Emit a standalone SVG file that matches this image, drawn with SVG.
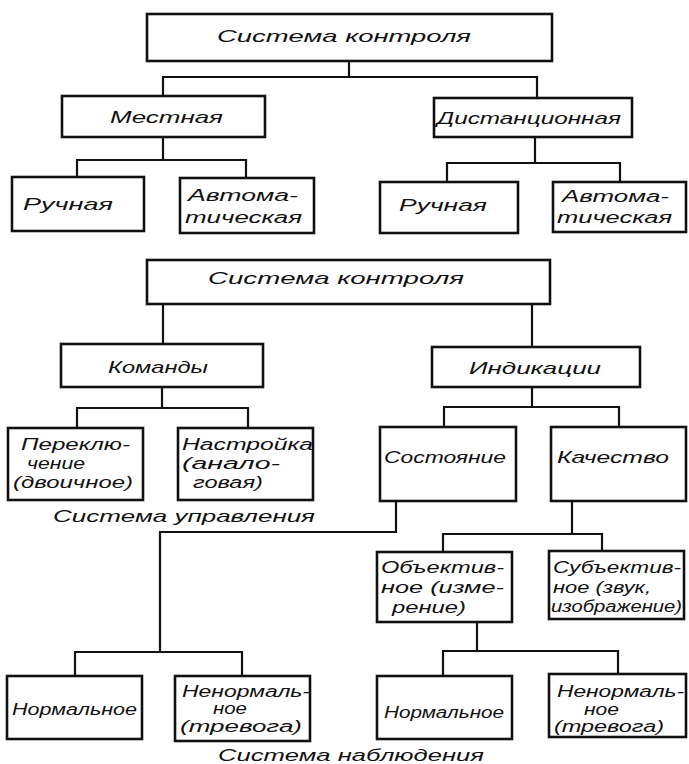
<svg xmlns="http://www.w3.org/2000/svg" width="689" height="764" viewBox="0 0 689 764">
<style>
.bx{fill:#fff;stroke:#111;stroke-width:2.6}
.ln{fill:none;stroke:#111;stroke-width:2.2;stroke-linecap:square}
text{font-family:"Liberation Sans","DejaVu Sans",sans-serif;font-style:italic;fill:#111;dominant-baseline:central}
.t{font-size:17px}
.s{font-size:16px}
</style>
<rect width="689" height="764" fill="#fff"/>
<g id="connectors">
<path class="ln" d="M349 61V77M163 77H537M163 77V96M537 77V98"/>
<path class="ln" d="M163 137V160M77 160H246M77 160V177M246 160V178"/>
<path class="ln" d="M535 137V163M447 163H620M447 163V182M620 163V182"/>
<path class="ln" d="M163 304V344M532 304V347"/>
<path class="ln" d="M162 387V408M77 408H248M77 408V428M248 408V428"/>
<path class="ln" d="M532 387V407M444 407H619M444 407V427M619 407V427"/>
<path class="ln" d="M396 501V532H160V652M75 652H242M75 652V676M242 652V676"/>
<path class="ln" d="M572 501V534M443 534H602M443 534V552M602 534V551"/>
<path class="ln" d="M477 622V651M443 651H618M443 651V676M618 651V674"/>
</g>
<g id="n_sys1"><rect class="bx" x="147" y="14" width="405" height="47"/><text class="t" x="217" y="36" textLength="254" lengthAdjust="spacingAndGlyphs">Система  контроля</text></g>
<g id="n_mestn"><rect class="bx" x="62" y="96" width="203" height="41"/><text class="t" x="110" y="117" textLength="113" lengthAdjust="spacingAndGlyphs">Местная</text></g>
<g id="n_dist"><rect class="bx" x="434" y="98" width="198" height="39"/><text class="t" x="437" y="118" textLength="184" lengthAdjust="spacingAndGlyphs">Дистанционная</text></g>
<g id="n_ruch1"><rect class="bx" x="12" y="177" width="132" height="54"/><text class="t" x="23" y="204" textLength="90" lengthAdjust="spacingAndGlyphs">Ручная</text></g>
<g id="n_avt1"><rect class="bx" x="180" y="178" width="134" height="55"/><text class="s" x="188" y="195" textLength="110" lengthAdjust="spacingAndGlyphs">Автома-</text><text class="s" x="185" y="217" textLength="117" lengthAdjust="spacingAndGlyphs">тическая</text></g>
<g id="n_ruch2"><rect class="bx" x="380" y="182" width="138" height="51"/><text class="t" x="399" y="205" textLength="88" lengthAdjust="spacingAndGlyphs">Ручная</text></g>
<g id="n_avt2"><rect class="bx" x="553" y="182" width="133" height="50"/><text class="s" x="562" y="196" textLength="107" lengthAdjust="spacingAndGlyphs">Автома-</text><text class="s" x="557" y="217" textLength="115" lengthAdjust="spacingAndGlyphs">тическая</text></g>
<g id="n_sys2"><rect class="bx" x="147" y="260" width="403" height="44"/><text class="t" x="208" y="278" textLength="256" lengthAdjust="spacingAndGlyphs">Система  контроля</text></g>
<g id="n_kom"><rect class="bx" x="61" y="344" width="202" height="43"/><text class="t" x="108" y="367" textLength="100" lengthAdjust="spacingAndGlyphs">Команды</text></g>
<g id="n_ind"><rect class="bx" x="432" y="347" width="208" height="40"/><text class="t" x="469" y="368" textLength="132" lengthAdjust="spacingAndGlyphs">Индикации</text></g>
<g id="n_perekl"><rect class="bx" x="8" y="428" width="135" height="72"/><text class="s" x="21" y="444" textLength="109" lengthAdjust="spacingAndGlyphs">Переклю-</text><text class="s" x="27" y="463" textLength="58" lengthAdjust="spacingAndGlyphs">чение</text><text class="s" x="13" y="482" textLength="120" lengthAdjust="spacingAndGlyphs">(двоичное)</text></g>
<g id="n_nastr"><rect class="bx" x="178" y="428" width="135" height="72"/><text class="s" x="182" y="444" textLength="131" lengthAdjust="spacingAndGlyphs">Настройка</text><text class="s" x="182" y="463" textLength="98" lengthAdjust="spacingAndGlyphs">(анало-</text><text class="s" x="193" y="482" textLength="70" lengthAdjust="spacingAndGlyphs">говая)</text></g>
<g id="n_sost"><rect class="bx" x="380" y="427" width="136" height="74"/><text class="t" x="384" y="457" textLength="122" lengthAdjust="spacingAndGlyphs">Состояние</text></g>
<g id="n_kach"><rect class="bx" x="551" y="427" width="135" height="74"/><text class="t" x="557" y="457" textLength="112" lengthAdjust="spacingAndGlyphs">Качество</text></g>
<text id="lbl_upr" class="t" x="53" y="516" textLength="262" lengthAdjust="spacingAndGlyphs">Система  управления</text>
<g id="n_obj"><rect class="bx" x="377" y="552" width="135" height="70"/><text class="s" x="381" y="567" textLength="123" lengthAdjust="spacingAndGlyphs">Объектив-</text><text class="s" x="381" y="587" textLength="123" lengthAdjust="spacingAndGlyphs">ное (изме-</text><text class="s" x="392" y="607" textLength="74" lengthAdjust="spacingAndGlyphs">рение)</text></g>
<g id="n_subj"><rect class="bx" x="549" y="551" width="135" height="68"/><text class="s" x="553" y="567" textLength="128" lengthAdjust="spacingAndGlyphs">Субъектив-</text><text class="s" x="553" y="587" textLength="98" lengthAdjust="spacingAndGlyphs">ное (звук,</text><text class="s" x="551" y="606" textLength="131" lengthAdjust="spacingAndGlyphs">изображение)</text></g>
<g id="n_norm1"><rect class="bx" x="7" y="676" width="135" height="63"/><text class="s" x="12" y="709" textLength="125" lengthAdjust="spacingAndGlyphs">Нормальное</text></g>
<g id="n_nenorm1"><rect class="bx" x="175" y="676" width="135" height="65"/><text class="s" x="182" y="691" textLength="128" lengthAdjust="spacingAndGlyphs">Ненормаль-</text><text class="s" x="213" y="708" textLength="34" lengthAdjust="spacingAndGlyphs">ное</text><text class="s" x="180" y="726" textLength="122" lengthAdjust="spacingAndGlyphs">(тревога)</text></g>
<g id="n_norm2"><rect class="bx" x="377" y="676" width="135" height="63"/><text class="s" x="384" y="712" textLength="120" lengthAdjust="spacingAndGlyphs">Нормальное</text></g>
<g id="n_nenorm2"><rect class="bx" x="549" y="674" width="137" height="63"/><text class="s" x="557" y="691" textLength="127" lengthAdjust="spacingAndGlyphs">Ненормаль-</text><text class="s" x="584" y="709" textLength="35" lengthAdjust="spacingAndGlyphs">ное</text><text class="s" x="554" y="726" textLength="110" lengthAdjust="spacingAndGlyphs">(тревога)</text></g>
<text id="lbl_nabl" class="t" x="218" y="755" textLength="266" lengthAdjust="spacingAndGlyphs">Система  наблюдения</text>
</svg>
